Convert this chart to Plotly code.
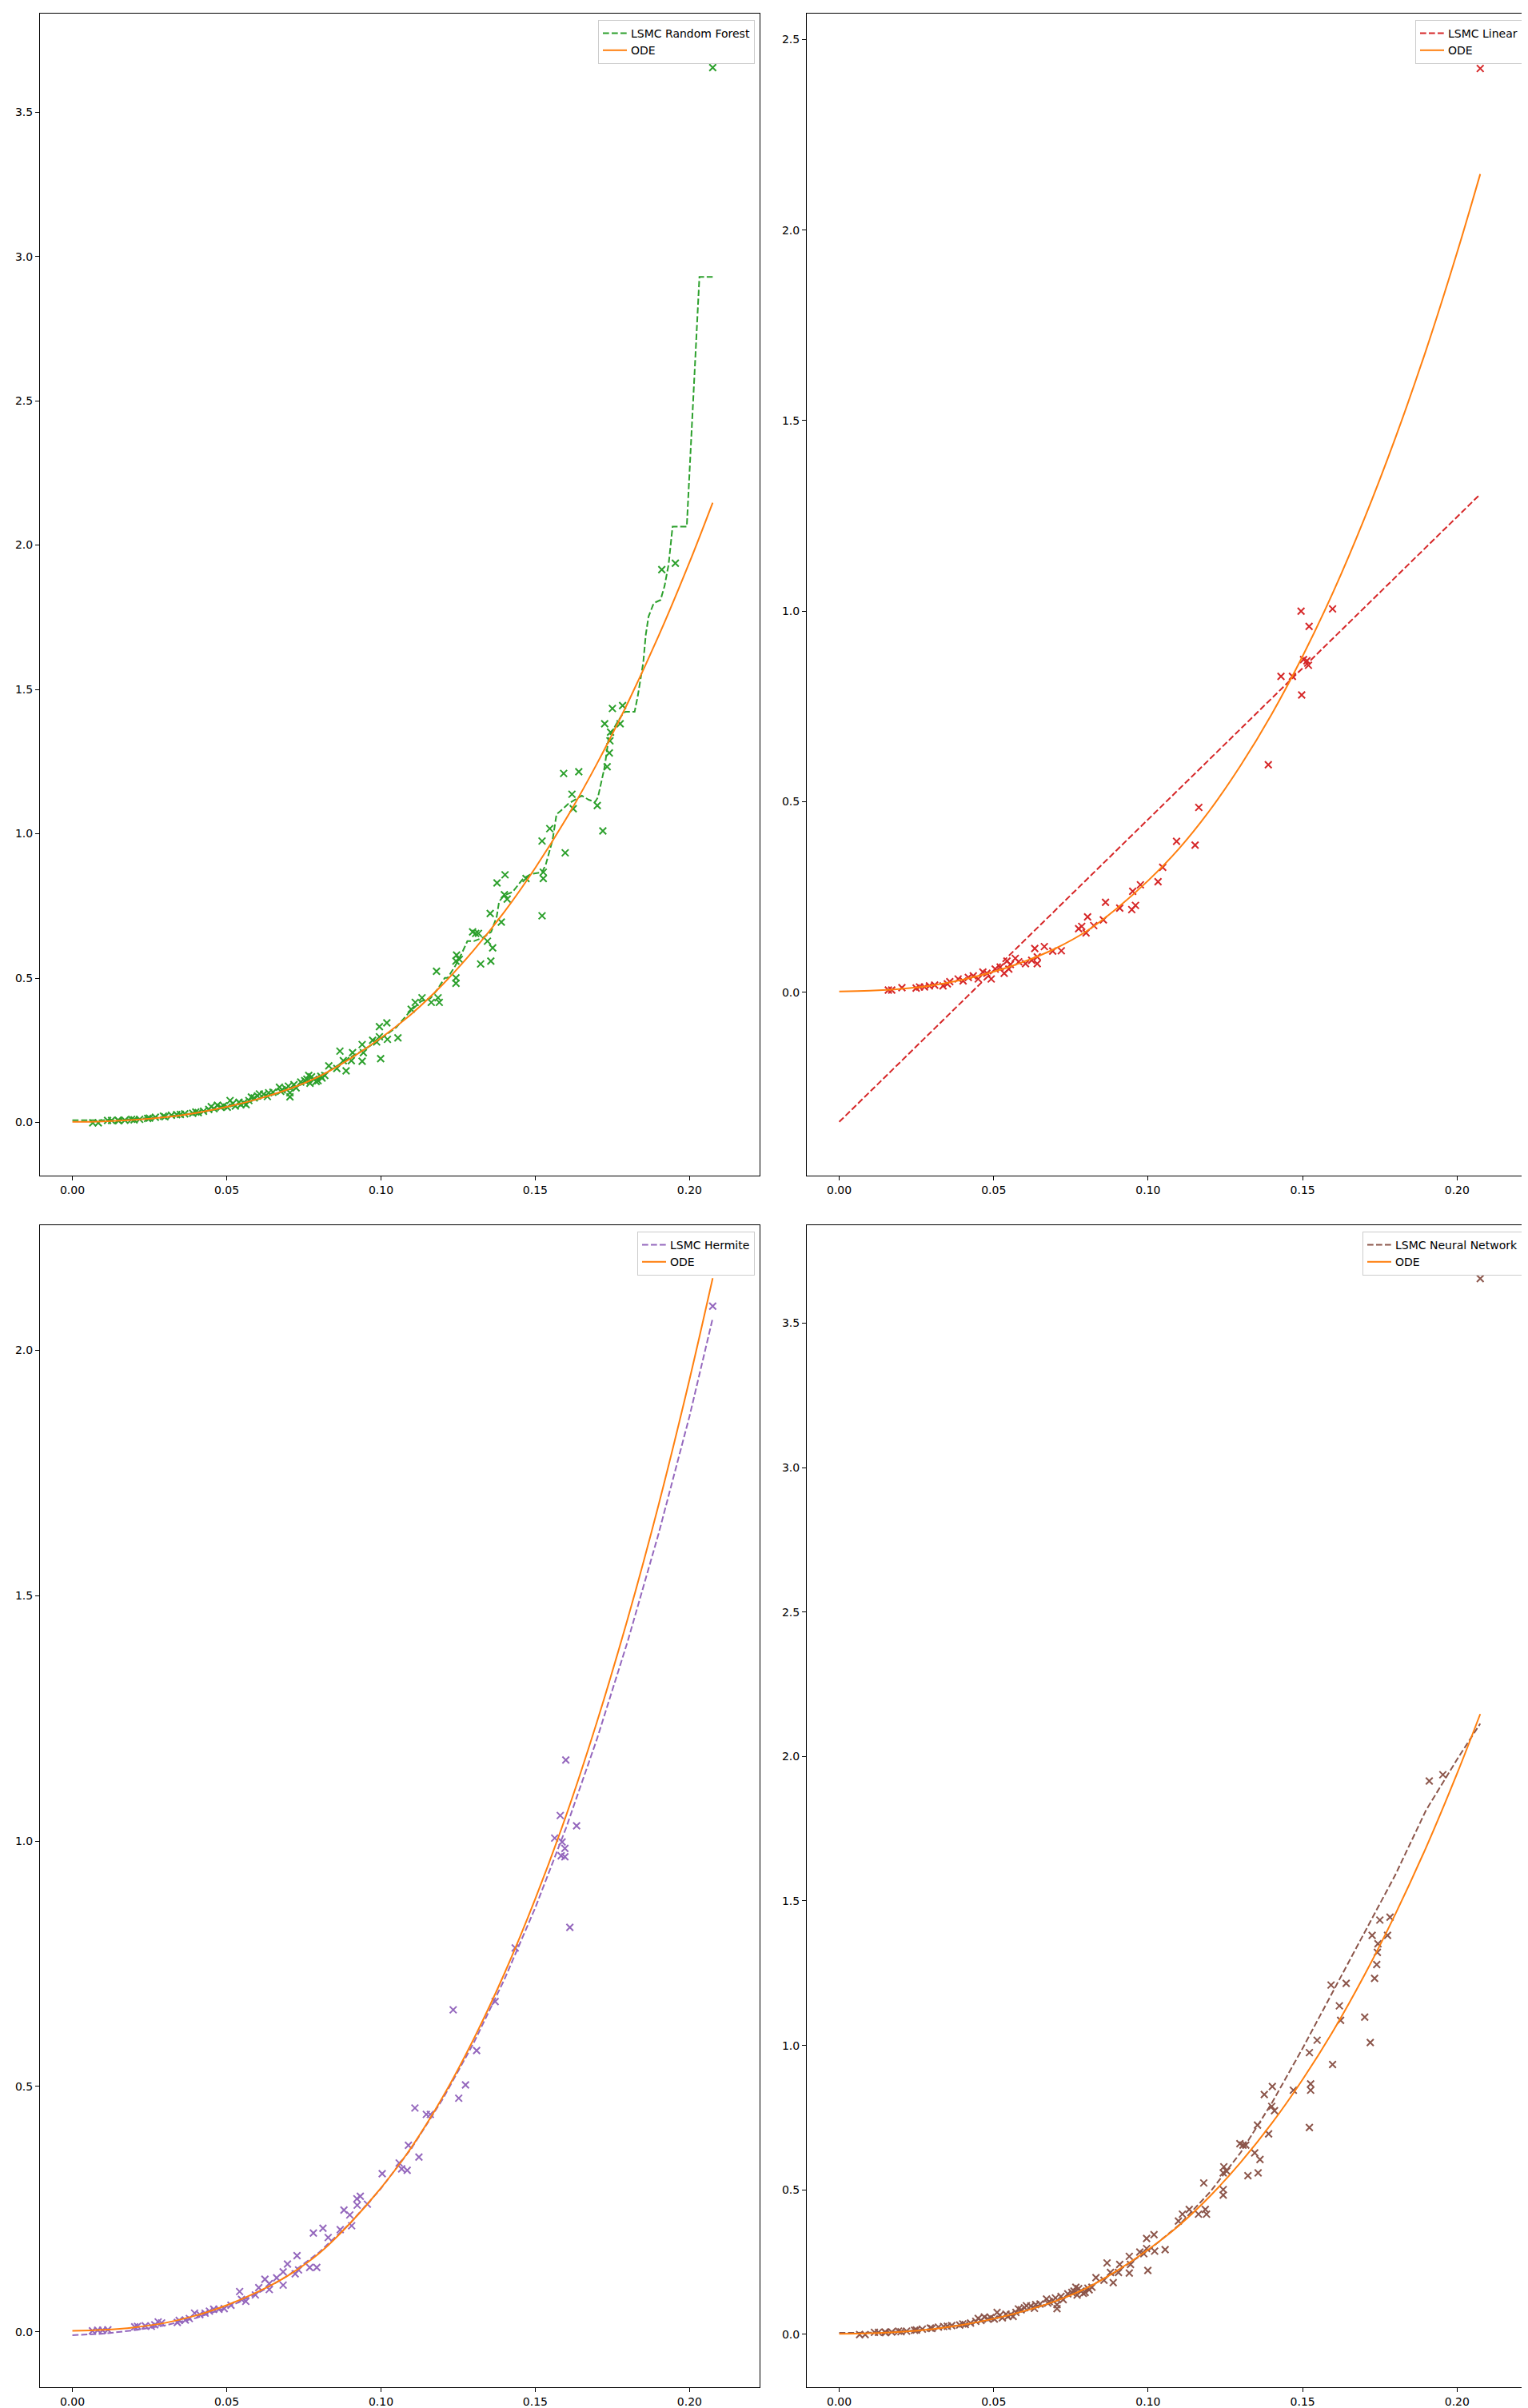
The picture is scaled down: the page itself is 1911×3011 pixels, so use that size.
import plotly.graph_objects as go

# --- DATA ---
# ODE reference solution (shared by all four panels)
ode_x = [0.0, 0.01, 0.02, 0.03, 0.04, 0.05, 0.06, 0.07, 0.08, 0.09, 0.10,
         0.11, 0.12, 0.13, 0.14, 0.15, 0.16, 0.17, 0.18, 0.19, 0.20, 0.2075]
ode_y = [0.002, 0.004, 0.009, 0.018, 0.033, 0.054, 0.081, 0.115, 0.160, 0.221, 0.293,
         0.377, 0.478, 0.596, 0.730, 0.882, 1.052, 1.243, 1.454, 1.686, 1.941, 2.147]

# Monte Carlo samples used by the random forest and the neural network fits
sample_x = [0.0066, 0.0084, 0.0114, 0.0127, 0.0148, 0.0150, 0.0170, 0.0192, 0.0200, 0.0218,
            0.0244, 0.0250, 0.0269, 0.0295, 0.0300, 0.0321, 0.0338, 0.0350, 0.0364, 0.0390,
            0.0400, 0.0408, 0.0425, 0.0442, 0.0450, 0.0459, 0.0470, 0.0481, 0.0490, 0.0502,
            0.0511, 0.0520, 0.0528, 0.0540, 0.0546, 0.0555, 0.0563, 0.0572, 0.0580, 0.0589,
            0.0600, 0.0606, 0.0620, 0.0632, 0.0636, 0.0650, 0.0671, 0.0675, 0.0680, 0.0692,
            0.0700, 0.0705, 0.0705, 0.0718, 0.0725, 0.0740, 0.0753, 0.0760, 0.0766, 0.0770,
            0.0775, 0.0783, 0.0790, 0.0796, 0.0805, 0.0809, 0.0818, 0.0831, 0.0857, 0.0867,
            0.0878, 0.0887, 0.0904, 0.0908, 0.0939, 0.0939, 0.0943, 0.0973, 0.0986, 0.0995,
            0.0995, 0.0999, 0.1019, 0.1021, 0.1055, 0.1098, 0.1111, 0.1133, 0.1163, 0.1180,
            0.1185, 0.1189, 0.1243, 0.1243, 0.1243, 0.1245, 0.1254, 0.1297, 0.1307, 0.1316,
            0.1323, 0.1345, 0.1354, 0.1356, 0.1362, 0.1376, 0.1390, 0.1400, 0.1402, 0.1409,
            0.1470, 0.1522, 0.1522, 0.1526, 0.1526, 0.1547, 0.1592, 0.1597, 0.1619, 0.1623,
            0.1641, 0.1701, 0.1719, 0.1725, 0.1733, 0.1740, 0.1742, 0.1744, 0.1750, 0.1775,
            0.1783, 0.1910, 0.1954, 0.2075]
sample_y = [-0.001, -0.001, 0.007, 0.007, 0.008, 0.006, 0.008, 0.011, 0.009, 0.011,
            0.014, 0.015, 0.018, 0.022, 0.020, 0.025, 0.027, 0.028, 0.030, 0.032,
            0.036, 0.034, 0.039, 0.045, 0.055, 0.048, 0.060, 0.053, 0.058, 0.053,
            0.076, 0.066, 0.057, 0.070, 0.062, 0.068, 0.062, 0.076, 0.088, 0.085,
            0.092, 0.099, 0.098, 0.090, 0.103, 0.105, 0.122, 0.108, 0.113, 0.117,
            0.126, 0.103, 0.089, 0.131, 0.120, 0.140, 0.145, 0.150, 0.163, 0.136,
            0.158, 0.150, 0.142, 0.145, 0.160, 0.154, 0.163, 0.196, 0.187, 0.247,
            0.214, 0.179, 0.214, 0.242, 0.270, 0.212, 0.242, 0.285, 0.279, 0.332,
            0.297, 0.221, 0.345, 0.288, 0.293, 0.392, 0.416, 0.432, 0.416, 0.524,
            0.432, 0.416, 0.559, 0.501, 0.482, 0.580, 0.565, 0.660, 0.655, 0.655,
            0.549, 0.628, 0.724, 0.559, 0.605, 0.830, 0.694, 0.789, 0.858, 0.774,
            0.845, 0.975, 0.716, 0.867, 0.845, 1.018, 1.209, 0.934, 1.137, 1.087,
            1.215, 1.098, 1.010, 1.381, 1.232, 1.280, 1.322, 1.352, 1.434, 1.381,
            1.444, 1.915, 1.937, 3.654]

# Random forest continuation value (step shaped)
forest_x = [0.0, 0.010, 0.020, 0.030, 0.040, 0.050, 0.060, 0.070, 0.080, 0.090,
            0.095, 0.100, 0.105, 0.109, 0.113, 0.116, 0.1181, 0.1207, 0.1216, 0.1241,
            0.1262, 0.1280, 0.1301, 0.1330, 0.1357, 0.1375, 0.1383, 0.1400, 0.1426, 0.1461,
            0.1487, 0.1522, 0.1534, 0.1556, 0.1569, 0.1582, 0.1608, 0.1651, 0.1673, 0.1694,
            0.1703, 0.1725, 0.1738, 0.1763, 0.1785, 0.1793, 0.1822, 0.1832, 0.1850, 0.1858,
            0.1867, 0.1884, 0.1906, 0.1919, 0.1932, 0.1945, 0.1991, 0.2032, 0.2075]
forest_y = [0.008, 0.008, 0.012, 0.020, 0.033, 0.052, 0.080, 0.113, 0.157, 0.225,
            0.255, 0.290, 0.330, 0.380, 0.420, 0.430, 0.458, 0.501, 0.501, 0.543,
            0.586, 0.628, 0.628, 0.640, 0.660, 0.713, 0.766, 0.787, 0.798, 0.845,
            0.861, 0.867, 0.893, 0.978, 1.068, 1.079, 1.105, 1.132, 1.118, 1.110,
            1.126, 1.232, 1.333, 1.381, 1.418, 1.423, 1.423, 1.476, 1.593, 1.688,
            1.752, 1.799, 1.810, 1.858, 1.932, 2.064, 2.064, 2.929, 2.929]

# Linear regression samples and fit
linear_sample_x = [0.0159, 0.0170, 0.0203, 0.0249, 0.0260, 0.0276, 0.0292, 0.0309, 0.0336, 0.0350,
                   0.0358, 0.0385, 0.0401, 0.0418, 0.0434, 0.0450, 0.0465, 0.0478, 0.0492, 0.0505,
                   0.0521, 0.0534, 0.0543, 0.0549, 0.0554, 0.0570, 0.0581, 0.0603, 0.0623, 0.0633,
                   0.0641, 0.0641, 0.0664, 0.0691, 0.0719, 0.0775, 0.0785, 0.0799, 0.0804, 0.0824,
                   0.0855, 0.0862, 0.0908, 0.0947, 0.0950, 0.0959, 0.0975, 0.1032, 0.1047, 0.1092,
                   0.1152, 0.1164, 0.1389, 0.1430, 0.1467, 0.1495, 0.1497, 0.1503, 0.1514, 0.1519,
                   0.1521, 0.1597, 0.2075]
linear_sample_y = [0.006, 0.006, 0.012, 0.011, 0.014, 0.014, 0.017, 0.019, 0.017, 0.022,
                   0.028, 0.035, 0.030, 0.039, 0.043, 0.035, 0.053, 0.050, 0.035, 0.061,
                   0.066, 0.050, 0.082, 0.061, 0.073, 0.089, 0.080, 0.075, 0.084, 0.115,
                   0.093, 0.075, 0.120, 0.108, 0.109, 0.167, 0.173, 0.156, 0.198, 0.175,
                   0.190, 0.236, 0.221, 0.217, 0.265, 0.228, 0.282, 0.290, 0.328, 0.396,
                   0.386, 0.485, 0.597, 0.829, 0.829, 1.000, 0.780, 0.873, 0.870, 0.858,
                   0.960, 1.006, 2.424]
linear_x = [0.0, 0.2075]
linear_y = [-0.340, 1.307]

# Hermite polynomial samples and fit
hermite_sample_x = [0.0065, 0.0082, 0.0098, 0.0115, 0.0202, 0.0211, 0.0236, 0.0256, 0.0267, 0.0278,
                    0.0289, 0.0340, 0.0346, 0.0366, 0.0379, 0.0396, 0.0413, 0.0430, 0.0444, 0.0458,
                    0.0475, 0.0492, 0.0514, 0.0542, 0.0548, 0.0562, 0.0593, 0.0604, 0.0624, 0.0638,
                    0.0638, 0.0662, 0.0683, 0.0683, 0.0697, 0.0722, 0.0728, 0.0733, 0.0769, 0.0781,
                    0.0792, 0.0812, 0.0829, 0.0868, 0.0880, 0.0899, 0.0905, 0.0922, 0.0923, 0.0933,
                    0.0956, 0.1004, 0.1059, 0.1067, 0.1085, 0.1089, 0.1110, 0.1123, 0.1147, 0.1160,
                    0.1234, 0.1252, 0.1274, 0.1310, 0.1370, 0.1435, 0.1563, 0.1581, 0.1584, 0.1587,
                    0.1596, 0.1596, 0.1599, 0.1612, 0.1634, 0.2075]
hermite_sample_y = [0.002, 0.003, 0.003, 0.004, 0.010, 0.011, 0.012, 0.011, 0.014, 0.020,
                    0.018, 0.019, 0.023, 0.024, 0.027, 0.038, 0.035, 0.038, 0.042, 0.046,
                    0.046, 0.047, 0.054, 0.082, 0.066, 0.062, 0.075, 0.090, 0.107, 0.086,
                    0.098, 0.110, 0.122, 0.095, 0.138, 0.118, 0.155, 0.126, 0.131, 0.201,
                    0.131, 0.211, 0.192, 0.208, 0.248, 0.238, 0.216, 0.271, 0.258, 0.276,
                    0.260, 0.322, 0.344, 0.332, 0.329, 0.380, 0.456, 0.356, 0.443, 0.443,
                    0.656, 0.476, 0.503, 0.573, 0.673, 0.782, 1.006, 1.052, 0.970, 0.998,
                    0.985, 0.968, 1.165, 0.824, 1.031, 2.090]
hermite_x = ode_x
hermite_y = [-0.007, -0.004, 0.003, 0.013, 0.028, 0.049, 0.078, 0.115, 0.162, 0.221, 0.292,
             0.375, 0.474, 0.588, 0.718, 0.864, 1.027, 1.208, 1.408, 1.627, 1.866, 2.065]

# Neural network fit (samples shared with the random forest)
network_x = ode_x
network_y = [0.005, 0.006, 0.010, 0.019, 0.033, 0.053, 0.080, 0.114, 0.160, 0.218, 0.290,
             0.378, 0.492, 0.630, 0.800, 0.990, 1.190, 1.390, 1.590, 1.815, 1.990, 2.114]

x_ticks = [0.0, 0.05, 0.10, 0.15, 0.20]

# --- STYLE ---
GREEN = "#2ca02c"
ORANGE = "#ff7f0e"
RED = "#d62728"
PURPLE = "#9467bd"
BROWN = "#8c564b"
FONT = dict(family="DejaVu Sans", size=14, color="black")
W, H = 1911, 3011

# pixel boxes of each axes: (left, right, top, bottom)
boxes = [(42, 942, 9, 1462), (1001, 1902, 9, 1462),
         (42, 942, 1524, 2977), (1001, 1902, 1524, 2977)]
y_ranges = [[-0.184, 3.841], [-0.481, 2.568], [-0.113, 2.255], [-0.183, 3.839]]
x_range = [-0.0105, 0.2227]

panels = [
    ("LSMC Random Forest", GREEN, sample_x, sample_y, forest_x, forest_y),
    ("LSMC Linear", RED, linear_sample_x, linear_sample_y, linear_x, linear_y),
    ("LSMC Hermite", PURPLE, hermite_sample_x, hermite_sample_y, hermite_x, hermite_y),
    ("LSMC Neural Network", BROWN, sample_x, sample_y, network_x, network_y),
]

fig = go.Figure()
layout = dict(width=W, height=H, margin=dict(l=0, r=0, t=0, b=0),
              paper_bgcolor="white", plot_bgcolor="white", font=FONT, showlegend=True)

for i, (name, color, sx, sy, lx, ly) in enumerate(panels):
    n = "" if i == 0 else str(i + 1)
    xa, ya = "x" + n, "y" + n
    leg = "legend" + n
    fig.add_trace(go.Scatter(x=sx, y=sy, mode="markers", xaxis=xa, yaxis=ya, showlegend=False,
                             marker=dict(symbol="x-thin", size=8.5, color=color,
                                         line=dict(width=2, color=color))))
    fig.add_trace(go.Scatter(x=lx, y=ly, mode="lines", name=name, xaxis=xa, yaxis=ya, legend=leg,
                             line=dict(color=color, width=2, dash="7.7px,3.3px")))
    fig.add_trace(go.Scatter(x=ode_x, y=ode_y, mode="lines", name="ODE", xaxis=xa, yaxis=ya,
                             legend=leg, line=dict(color=ORANGE, width=2, shape="spline")))

    left, right, top, bottom = boxes[i]
    axis_common = dict(showline=True, linecolor="black", linewidth=1, mirror=True,
                       ticks="outside", ticklen=5, tickwidth=1, tickcolor="black",
                       showgrid=False, zeroline=False, tickfont=FONT)
    layout["xaxis" + n] = dict(domain=[left / W, right / W], range=x_range, anchor=ya,
                               tickvals=x_ticks, tickformat=".2f", **axis_common)
    layout["yaxis" + n] = dict(domain=[1 - bottom / H, 1 - top / H], range=y_ranges[i], anchor=xa,
                               tick0=0, dtick=0.5, tickformat=".1f", **axis_common)
    layout[leg] = dict(x=(right - 6) / W, y=1 - (top + 8) / H, xanchor="right", yanchor="top",
                       bgcolor="rgba(255,255,255,0.8)", bordercolor="#cccccc", borderwidth=1,
                       font=FONT, itemwidth=30, tracegroupgap=0)

fig.update_layout(**layout)
fig.write_html("out.html")
